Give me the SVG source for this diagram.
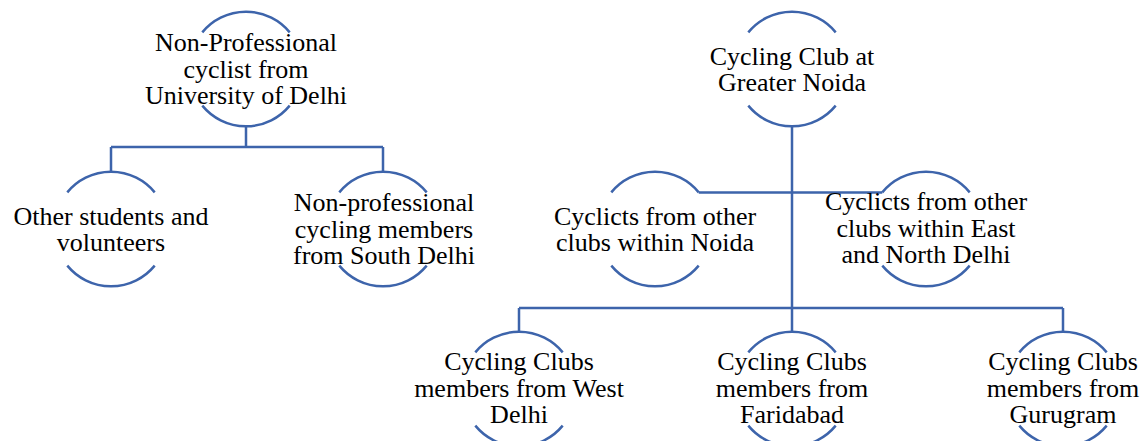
<svg xmlns="http://www.w3.org/2000/svg" width="1147" height="441" viewBox="0 0 1147 441">
<style>
.arc{fill:none;stroke:#3d64ab;stroke-width:2.5}
.con{fill:none;stroke:#3d64ab;stroke-width:2.5}
text{font-family:"Liberation Serif","Times New Roman",serif;font-size:26px;fill:#000;text-anchor:middle}
</style>
<rect width="1147" height="441" fill="#fff"/>
<g id="connectors">
<path class="con" d="M246,125.5 V147 M111,147 H383 M111,147 V172.5 M383,147 V172.5"/>
<path class="con" d="M792,125.5 V332 M698.7,192.4 H882.3 M519,308 H1063 M519,308 V332 M1063,308 V332"/>
</g>
<g id="n1">
<path class="arc" d="M202.3,32.4 A56.5,56.5 0 0 1 289.7,32.4 M289.7,105.6 A56.5,56.5 0 0 1 202.3,105.6"/>
<text x="246" y="51">Non-Professional</text>
<text x="246" y="77.5">cyclist from</text>
<text x="246" y="104">University of Delhi</text>
</g>
<g id="n2">
<path class="arc" d="M67.3,192.4 A56.5,56.5 0 0 1 154.7,192.4 M154.7,265.6 A56.5,56.5 0 0 1 67.3,265.6"/>
<text x="111" y="224.5">Other students and</text>
<text x="111" y="251">volunteers</text>
</g>
<g id="n3">
<path class="arc" d="M339.3,192.4 A56.5,56.5 0 0 1 426.7,192.4 M426.7,265.6 A56.5,56.5 0 0 1 339.3,265.6"/>
<text x="384" y="211">Non-professional</text>
<text x="384" y="237.5">cycling members</text>
<text x="384" y="264">from South Delhi</text>
</g>
<g id="n4">
<path class="arc" d="M748.3,32.4 A56.5,56.5 0 0 1 835.7,32.4 M835.7,105.6 A56.5,56.5 0 0 1 748.3,105.6"/>
<text x="792" y="64.5">Cycling Club at</text>
<text x="792" y="91">Greater Noida</text>
</g>
<g id="n5">
<path class="arc" d="M611.3,192.4 A56.5,56.5 0 0 1 698.7,192.4 M698.7,265.6 A56.5,56.5 0 0 1 611.3,265.6"/>
<text x="655" y="224.5">Cyclicts from other</text>
<text x="655" y="251">clubs within Noida</text>
</g>
<g id="n6">
<path class="arc" d="M882.3,192.4 A56.5,56.5 0 0 1 969.7,192.4 M969.7,265.6 A56.5,56.5 0 0 1 882.3,265.6"/>
<text x="926" y="210">Cyclicts from other</text>
<text x="926" y="236.5">clubs within East</text>
<text x="926" y="263">and North Delhi</text>
</g>
<g id="n7">
<path class="arc" d="M475.3,352.4 A56.5,56.5 0 0 1 562.7,352.4 M562.7,425.6 A56.5,56.5 0 0 1 475.3,425.6"/>
<text x="519" y="370">Cycling Clubs</text>
<text x="519" y="396.5">members from West</text>
<text x="519" y="423">Delhi</text>
</g>
<g id="n8">
<path class="arc" d="M748.3,352.4 A56.5,56.5 0 0 1 835.7,352.4 M835.7,425.6 A56.5,56.5 0 0 1 748.3,425.6"/>
<text x="792" y="370">Cycling Clubs</text>
<text x="792" y="396.5">members from</text>
<text x="792" y="423">Faridabad</text>
</g>
<g id="n9">
<path class="arc" d="M1019.3,352.4 A56.5,56.5 0 0 1 1106.7,352.4 M1106.7,425.6 A56.5,56.5 0 0 1 1019.3,425.6"/>
<text x="1063" y="370">Cycling Clubs</text>
<text x="1063" y="396.5">members from</text>
<text x="1063" y="423">Gurugram</text>
</g>
</svg>
